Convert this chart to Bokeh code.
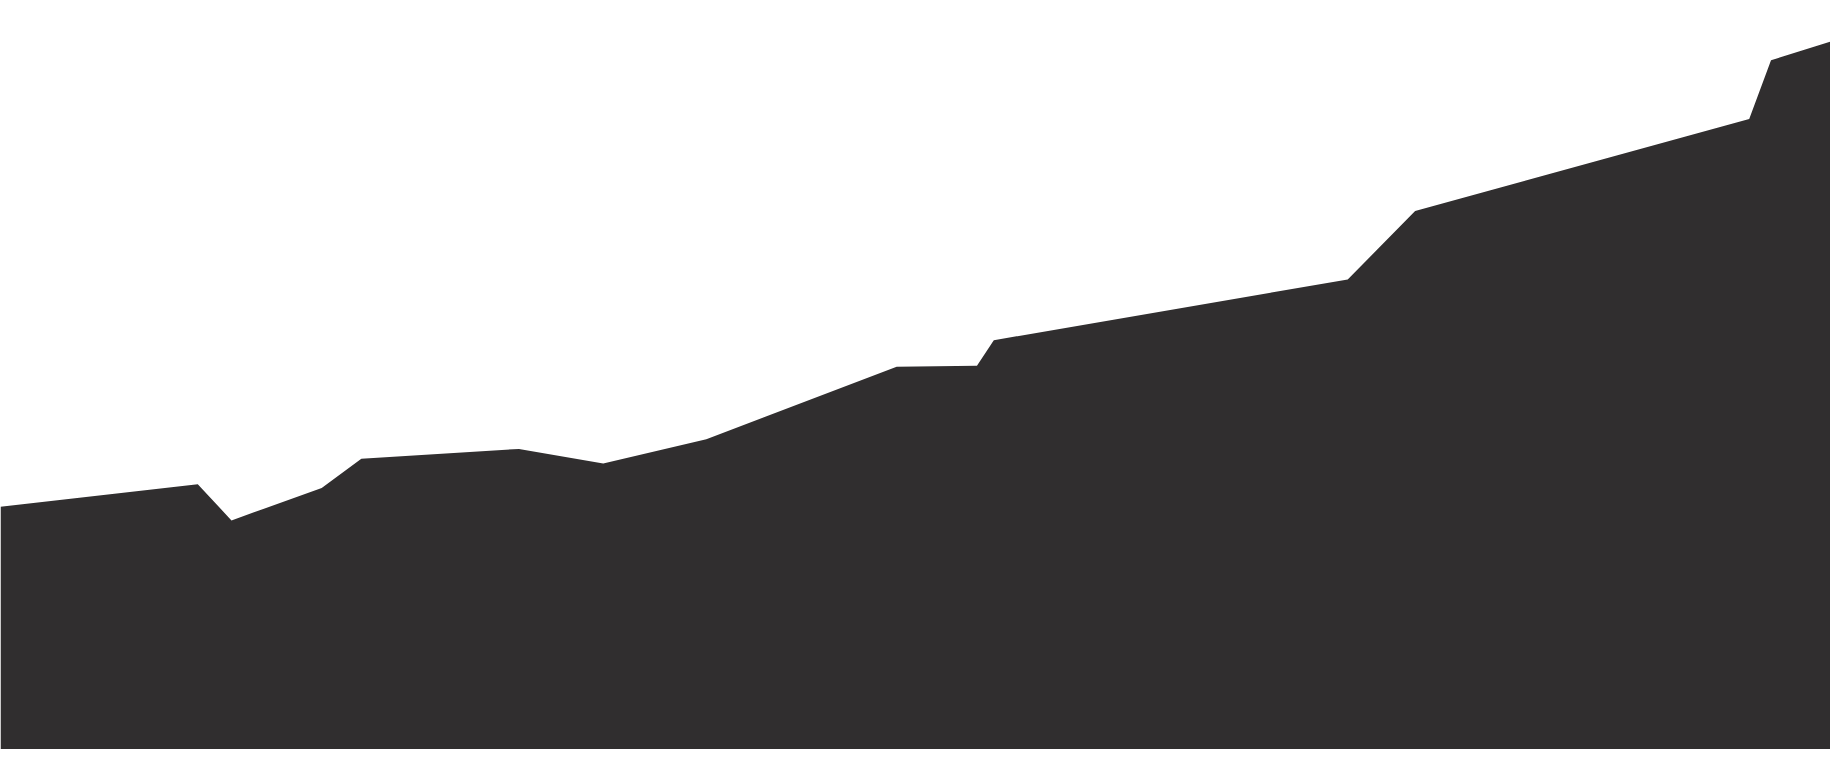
from bokeh.plotting import figure
from bokeh.models import Range1d
from bokeh.embed import file_html
from bokeh.resources import INLINE

# positions along the horizontal axis and heights of the area
x_pos = [0, 199, 233, 324, 364, 523, 608, 712, 904, 985, 1002, 1359, 1427, 1764, 1786, 1846]
heights = [248, 271, 234, 267, 297, 307, 292, 317, 391, 392, 418, 480, 550, 644, 704, 723]
baseline = [0] * len(x_pos)

W, H = 1830, 749
p = figure(width=W, height=H, output_backend="svg", toolbar_location=None,
           x_range=Range1d(0, 1846), y_range=Range1d(0, 765),
           min_border=0, background_fill_color="white", border_fill_color="white")
p.axis.visible = False
p.grid.visible = False
p.outline_line_color = None

p.varea(x=x_pos, y1=baseline, y2=heights, fill_color="#302e2f")

open("out.html", "w").write(file_html(p, INLINE))
